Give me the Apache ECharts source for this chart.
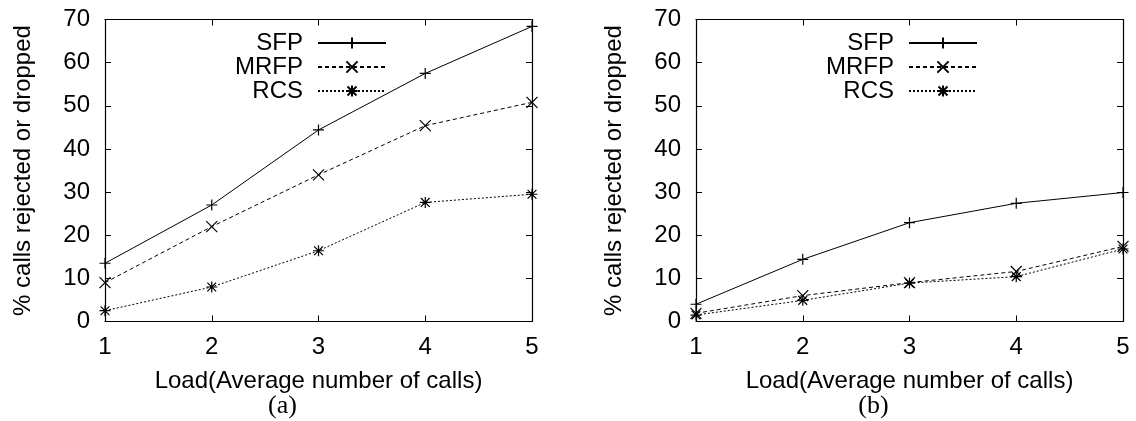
<!DOCTYPE html>
<html>
<head>
<meta charset="utf-8">
<script src="https://cdn.jsdelivr.net/npm/echarts@6/dist/echarts.min.js"></script>
<style>
html,body{margin:0;padding:0;background:#fff;}
#chart{width:1136px;height:421px;}
</style>
</head>
<body>
<div id="chart"></div>
<script>
// ---- data ----
const loads = [1, 2, 3, 4, 5];
const seriesNames = ['SFP', 'MRFP', 'RCS'];
const sfpA  = [13.5, 27.0, 44.4, 57.5, 68.4];
const mrfpA = [9.0, 22.0, 34.0, 45.4, 50.8];
const rcsA  = [2.5, 8.0, 16.4, 27.6, 29.5];
const sfpB  = [4.0, 14.4, 22.9, 27.4, 29.9];
const mrfpB = [1.9, 6.0, 9.0, 11.6, 17.4];
const rcsB  = [1.5, 4.9, 8.9, 10.4, 16.8];
const yTicks = [0, 10, 20, 30, 40, 50, 60, 70];
const xTitle = 'Load(Average number of calls)';
const yTitle = '% calls rejected or dropped';
const panelLabels = ['(a)', '(b)'];

// ---- styles ----
const FONT = 'Liberation Sans, Arial, Helvetica, sans-serif';
const symbols = {
  SFP: 'path://M0,5L10,5M5,0L5,10',
  MRFP: 'path://M0,0L10,10M10,0L0,10',
  RCS: 'path://M0,5L10,5M5,0L5,10M1,1L9,9M9,1L1,9'
};
const dashes = { SFP: 'solid', MRFP: [4, 3], RCS: [2, 2] };

const gridLefts = [105, 696];
const plotW = 427, plotTop = 19.5, plotH = 302;

const xAxes = [], yAxes = [], grids = [], series = [], legends = [], titles = [];
const zip = arr => loads.map((x, i) => [x, arr[i]]);
const panelData = [[sfpA, mrfpA, rcsA], [sfpB, mrfpB, rcsB]];

gridLefts.forEach((gl, g) => {
  grids.push({ left: gl, top: plotTop, width: plotW, height: plotH, show: false });
  const tickCommon = { show: true, inside: true, length: 6, lineStyle: { color: '#000', width: 1 } };
  const lineCommon = { show: true, onZero: false, lineStyle: { color: '#000', width: 1.2 } };
  xAxes.push({
    type: 'value', gridIndex: g, position: 'bottom', min: 1, max: 5, interval: 1,
    axisLine: lineCommon, axisTick: tickCommon, splitLine: { show: false },
    axisLabel: { color: '#000', fontFamily: FONT, fontSize: 24, margin: 14 },
    name: xTitle, nameLocation: 'middle', nameGap: 48,
    nameTextStyle: { color: '#000', fontFamily: FONT, fontSize: 24 }
  });
  xAxes.push({
    type: 'value', gridIndex: g, position: 'top', min: 1, max: 5, interval: 1,
    axisLine: lineCommon, axisTick: tickCommon, splitLine: { show: false },
    axisLabel: { show: false }
  });
  yAxes.push({
    type: 'value', gridIndex: g, position: 'left', min: yTicks[0], max: yTicks[yTicks.length - 1], interval: 10,
    axisLine: lineCommon, axisTick: tickCommon, splitLine: { show: false },
    axisLabel: { color: '#000', fontFamily: FONT, fontSize: 24, margin: 15 },
    name: yTitle, nameLocation: 'middle', nameGap: 70, nameRotate: 90,
    nameTextStyle: { color: '#000', fontFamily: FONT, fontSize: 24 }
  });
  yAxes.push({
    type: 'value', gridIndex: g, position: 'right', min: yTicks[0], max: yTicks[yTicks.length - 1], interval: 10,
    axisLine: lineCommon, axisTick: tickCommon, splitLine: { show: false },
    axisLabel: { show: false }
  });
  seriesNames.forEach((n, s) => {
    series.push({
      name: n, type: 'line', xAxisIndex: g * 2, yAxisIndex: g * 2,
      data: zip(panelData[g][s]),
      symbol: symbols[n], symbolSize: 11, showSymbol: true,
      lineStyle: { color: '#000', width: 1, type: dashes[n] },
      itemStyle: { color: '#000', borderColor: '#000', borderWidth: 1.2 },
      animation: false, silent: true
    });
  });
  legends.push({
    orient: 'vertical', align: 'right', right: 1136 - (gl + 282), top: 31,
    padding: 0, itemGap: 0, itemWidth: 68, itemHeight: 14,
    data: seriesNames,
    selectedMode: false,
    textStyle: { color: '#000', fontFamily: FONT, fontSize: 24, lineHeight: 23, padding: [0, 10, 0, 0] }
  });
  titles.push({
    text: panelLabels[g], left: gl + plotW / 2 - 36, top: 393, textAlign: 'center',
    textStyle: { color: '#000', fontFamily: 'Liberation Serif, Times New Roman, serif', fontSize: 26, fontWeight: 'normal' },
    padding: 0
  });
});

const chart = echarts.init(document.getElementById('chart'), null, { renderer: 'canvas' });
chart.setOption({
  backgroundColor: '#fff',
  animation: false,
  title: titles,
  legend: legends,
  grid: grids,
  xAxis: xAxes,
  yAxis: yAxes,
  series: series
});
</script>
</body>
</html>
